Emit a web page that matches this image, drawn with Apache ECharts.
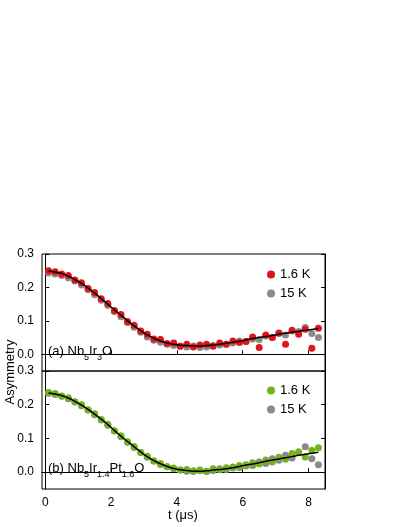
<!DOCTYPE html><html><head><meta charset="utf-8">
<script src="https://cdn.jsdelivr.net/npm/echarts@6/dist/echarts.min.js"></script>
<style>body{margin:0;background:#fff}#c{width:407px;height:527px}</style></head><body><div id="c"></div><script>
const times=[0.1,0.3,0.5,0.7,0.9,1.1,1.3,1.5,1.7,1.9,2.1,2.3,2.5,2.7,2.9,3.1,3.3,3.5,3.7,3.9,4.1,4.3,4.5,4.7,4.9,5.1,5.3,5.5,5.7,5.9,6.1,6.3,6.5,6.7,6.9,7.1,7.3,7.5,7.7,7.9,8.1,8.3];
const topRed=[0.250,0.247,0.240,0.236,0.222,0.214,0.197,0.185,0.166,0.152,0.131,0.119,0.098,0.087,0.070,0.060,0.046,0.044,0.032,0.034,0.024,0.030,0.022,0.028,0.030,0.024,0.034,0.030,0.040,0.035,0.038,0.052,0.020,0.058,0.050,0.064,0.030,0.072,0.060,0.075,0.018,0.078];
const topGray=[0.243,0.240,0.236,0.229,0.219,0.207,0.193,0.178,0.162,0.146,0.128,0.112,0.095,0.081,0.066,0.052,0.042,0.036,0.030,0.026,0.024,0.022,0.025,0.020,0.022,0.026,0.028,0.030,0.034,0.040,0.038,0.046,0.044,0.055,0.050,0.062,0.058,0.070,0.068,0.080,0.062,0.050];
const topFit=[0.249,0.246,0.242,0.234,0.223,0.212,0.198,0.183,0.167,0.150,0.133,0.117,0.100,0.085,0.071,0.058,0.048,0.040,0.034,0.030,0.027,0.026,0.025,0.025,0.026,0.028,0.030,0.033,0.036,0.039,0.043,0.047,0.050,0.053,0.056,0.060,0.063,0.066,0.069,0.072,0.074,0.077];
const botGreen=[0.236,0.233,0.226,0.221,0.209,0.200,0.185,0.173,0.156,0.142,0.123,0.108,0.090,0.076,0.058,0.047,0.033,0.026,0.016,0.012,0.006,0.008,0.004,0.006,0.002,0.010,0.007,0.013,0.012,0.020,0.018,0.028,0.024,0.036,0.030,0.044,0.038,0.055,0.060,0.045,0.065,0.072];
const botGray=[0.234,0.230,0.225,0.218,0.208,0.197,0.184,0.170,0.155,0.139,0.122,0.105,0.089,0.073,0.058,0.044,0.033,0.023,0.016,0.010,0.006,0.003,0.002,0.004,0.003,0.005,0.010,0.008,0.015,0.014,0.022,0.020,0.030,0.026,0.040,0.035,0.050,0.042,0.060,0.075,0.040,0.022];
const botFit=[0.235,0.232,0.227,0.220,0.210,0.199,0.186,0.172,0.157,0.141,0.124,0.107,0.091,0.075,0.060,0.046,0.034,0.025,0.017,0.011,0.007,0.005,0.003,0.003,0.004,0.006,0.008,0.010,0.013,0.017,0.021,0.024,0.028,0.032,0.036,0.039,0.043,0.046,0.050,0.053,0.056,0.059];
const xTicks=[0,2,4,6,8];
const yTicks=[0,0.1,0.2,0.3];
const legendNames=['1.6 K','15 K'];
const RED='#e0141c',GRAY='#8a8a8a',GREEN='#74b31c';
const z=(a,b)=>a.map((v,i)=>[a[i],b[i]]);
const font='"Liberation Sans", Arial, sans-serif';
function xa(gi,show){return {gridIndex:gi,type:'value',min:-0.1,max:8.5,axisLine:{lineStyle:{color:'#000'}},
 axisTick:{inside:true,length:4,customValues:xTicks,lineStyle:{color:'#000'}},
 axisLabel:{show:show,customValues:xTicks,color:'#000',fontSize:12,fontFamily:font,formatter:v=>String(v)},splitLine:{show:false}};}
function ya(gi,pos,show){return {gridIndex:gi,type:'value',position:pos,min:-0.05,max:0.3,axisLine:{show:true,lineStyle:{color:'#000'}},
 axisTick:{inside:true,length:4,customValues:yTicks,lineStyle:{color:'#000'}},
 axisLabel:{show:show,customValues:yTicks,color:'#000',fontSize:12,fontFamily:font,formatter:v=>v.toFixed(1)},splitLine:{show:false}};}
const sc=(name,xi,data,color,z2)=>({name,type:'scatter',xAxisIndex:xi,yAxisIndex:xi*2,data,symbolSize:7,itemStyle:{color,opacity:1},z:z2});
const rich={n:{fontSize:13,fontFamily:font,lineHeight:16,verticalAlign:'bottom'},s:{fontSize:9,fontFamily:font,lineHeight:12,verticalAlign:'bottom',padding:[0,0,-4,0]}};
const ch=echarts.init(document.getElementById('c'),null,{renderer:'canvas'});
ch.setOption({animation:false,
 grid:[{left:42,right:82,top:254,height:117,show:true,borderColor:'#000',borderWidth:1},
       {left:42,right:82,top:371,height:118,show:true,borderColor:'#000',borderWidth:1}],
 xAxis:[xa(0,false),xa(1,true)],
 yAxis:[ya(0,'left',true),ya(0,'right',false),ya(1,'left',true),ya(1,'right',false)],
 legend:[{data:[{name:legendNames[0]+' ',itemStyle:{color:RED}},{name:legendNames[1]+' ',itemStyle:{color:GRAY}}],orient:'vertical',left:262,top:263,itemWidth:8,itemHeight:8,itemGap:6,icon:'circle',textStyle:{fontSize:13,fontFamily:font,color:'#000'}},
         {data:[{name:legendNames[0],itemStyle:{color:GREEN}},{name:legendNames[1],itemStyle:{color:GRAY}}],orient:'vertical',left:262,top:379,itemWidth:8,itemHeight:8,itemGap:6,icon:'circle',textStyle:{fontSize:13,fontFamily:font,color:'#000'}}],
 series:[
  sc(legendNames[1]+' ',0,z(times,topGray),GRAY,1),
  sc(legendNames[0]+' ',0,z(times,topRed),RED,2),
  {type:'line',xAxisIndex:0,yAxisIndex:0,data:z(times,topFit),showSymbol:false,smooth:true,lineStyle:{color:'#000',width:1.5},z:3},
  sc(legendNames[1],1,z(times,botGray),GRAY,1),
  sc(legendNames[0],1,z(times,botGreen),GREEN,2),
  {type:'line',xAxisIndex:1,yAxisIndex:2,data:z(times,botFit),showSymbol:false,smooth:true,lineStyle:{color:'#000',width:1.5},z:3}
 ],
 graphic:[
  {type:'text',left:48,top:345,z:10,style:{text:'{n|(a) Nb}{s|5}{n|Ir}{s|3}{n|O}',rich,fill:'#000'}},
  {type:'text',left:48,top:462,z:10,style:{text:'{n|(b) Nb}{s|5}{n|Ir}{s|1.4}{n|Pt}{s|1.6}{n|O}',rich,fill:'#000'}},
  {type:'text',x:4,y:372,rotation:Math.PI/2,style:{text:'Asymmetry',fontSize:13,fontFamily:font,fill:'#000',align:'center',verticalAlign:'top'}},
  {type:'text',x:183,y:509,style:{text:'t (μs)',fontSize:13,fontFamily:font,fill:'#000',align:'center',verticalAlign:'top'}}
 ]});
</script></body></html>
